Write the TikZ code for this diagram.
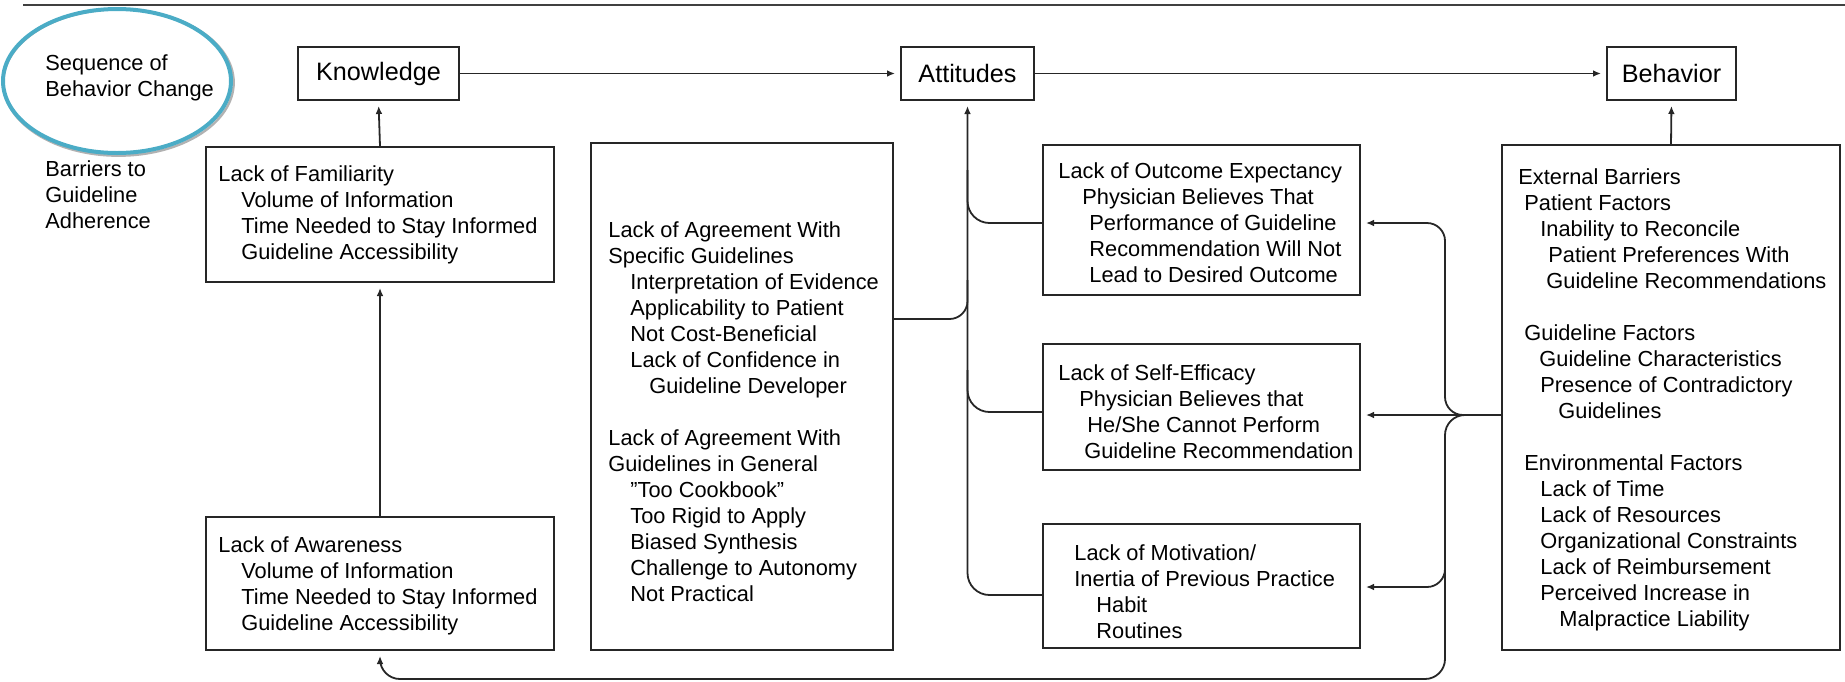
\documentclass[tikz,border=0pt]{standalone}
\usepackage{fontspec}
\setmainfont{Liberation Sans}
\usetikzlibrary{arrows.meta,calc,shapes.geometric}
\definecolor{tealring}{RGB}{75,172,198}
\begin{document}
\begin{tikzpicture}[x=0.5pt,y=-0.5pt,
  box/.style={draw=black!85, line width=1pt, inner sep=0pt},
  txt/.style={anchor=north west, inner sep=0pt, align=left, font=\fontsize{10.9pt}{13pt}\selectfont},
  hdr/.style={font=\fontsize{12.6pt}{15pt}\selectfont},
  conn/.style={draw=black!85, line width=0.9pt, rounded corners=9pt},
  arr/.style={conn, -{Latex[length=4pt,width=3.4pt]}, shorten >=2.5pt}]
\useasboundingbox (0,0) rectangle (1845,681);

% top rule
\draw[line width=1pt, black!75] (23,5) -- (1845,5);

% ellipse
\draw[gray!60, line width=1.2pt] (118.5,82.5) ellipse [x radius=57.6pt, y radius=36.6pt];
\node[draw=tealring, line width=2pt, ellipse, inner sep=0pt, minimum width=114pt, minimum height=72pt] (seq) at (117,81) {};
\node[txt] (seqt) at (45,54) {Sequence of\\Behavior Change};
\node[txt] (bar) at (45,160) {Barriers to\\Guideline\\Adherence};

% header boxes
\node[box, hdr, minimum width=80.5pt, minimum height=26.5pt] (know) at (378.5,73.5) {Knowledge};
\node[box, hdr, minimum width=66.5pt, minimum height=26.5pt] (att) at (967.5,73.5) {Attitudes};
\node[box, hdr, minimum width=64.5pt, minimum height=26.5pt] (beh) at (1671.5,73.5) {Behavior};

% barrier boxes
\node[box, minimum width=174pt, minimum height=67.5pt] (fam) at (380,214.5) {};
\node[box, minimum width=174pt, minimum height=66.5pt] (awa) at (380,583.5) {};
\node[box, minimum width=151pt, minimum height=253.5pt] (agr) at (742,396.5) {};
\node[box, minimum width=158.5pt, minimum height=75pt] (out) at (1201.5,220) {};
\node[box, minimum width=158.5pt, minimum height=63pt] (self) at (1201.5,407) {};
\node[box, minimum width=158.5pt, minimum height=62pt] (mot) at (1201.5,586) {};
\node[box, minimum width=169pt, minimum height=252.5pt] (ext) at (1671,397.5) {};

% texts
\node[txt] (famt) at (218,165) {Lack of Familiarity\\
\hspace*{11.5pt}Volume of Information\\
\hspace*{11.5pt}Time Needed to Stay Informed\\
\hspace*{11.5pt}Guideline Accessibility};
\node[txt] (awat) at (218,536) {Lack of Awareness\\
\hspace*{11.5pt}Volume of Information\\
\hspace*{11.5pt}Time Needed to Stay Informed\\
\hspace*{11.5pt}Guideline Accessibility};
\node[txt] (agrt) at (608,221) {Lack of Agreement With\\
Specific Guidelines\\
\hspace*{11pt}Interpretation of Evidence\\
\hspace*{11pt}Applicability to Patient\\
\hspace*{11pt}Not Cost-Beneficial\\
\hspace*{11pt}Lack of Confidence in\\
\hspace*{20.5pt}Guideline Developer\\[13pt]
Lack of Agreement With\\
Guidelines in General\\
\hspace*{11pt}\symbol{34}Too Cookbook\symbol{34}\\
\hspace*{11pt}Too Rigid to Apply\\
\hspace*{11pt}Biased Synthesis\\
\hspace*{11pt}Challenge to Autonomy\\
\hspace*{11pt}Not Practical};
\node[txt] (outt) at (1058,162) {Lack of Outcome Expectancy\\
\hspace*{12pt}Physician Believes That\\
\hspace*{15.5pt}Performance of Guideline\\
\hspace*{15.5pt}Recommendation Will Not\\
\hspace*{15.5pt}Lead to Desired Outcome};
\node[txt] (selft) at (1058,364) {Lack of Self-Efficacy\\
\hspace*{10.5pt}Physician Believes that\\
\hspace*{14.5pt}He/She Cannot Perform\\
\hspace*{13pt}Guideline Recommendation};
\node[txt] (mott) at (1074,544) {Lack of Motivation/\\
Inertia of Previous Practice\\
\hspace*{11pt}Habit\\
\hspace*{11pt}Routines};
\node[txt] (extt) at (1518,168) {External Barriers\\
\hspace*{3pt}Patient Factors\\
\hspace*{11pt}Inability to Reconcile\\
\hspace*{15pt}Patient Preferences With\\
\hspace*{14pt}Guideline Recommendations\\[13pt]
\hspace*{3pt}Guideline Factors\\
\hspace*{10.5pt}Guideline Characteristics\\
\hspace*{11pt}Presence of Contradictory\\
\hspace*{20pt}Guidelines\\[13pt]
\hspace*{3pt}Environmental Factors\\
\hspace*{11pt}Lack of Time\\
\hspace*{11pt}Lack of Resources\\
\hspace*{11pt}Organizational Constraints\\
\hspace*{11pt}Lack of Reimbursement\\
\hspace*{11pt}Perceived Increase in\\
\hspace*{20.5pt}Malpractice Liability};

% sequence arrows
\draw[arr] (know.east) -- (att.west);
\draw[arr] (att.east) -- (beh.west);
\draw[arr] (fam.north) -- (know.south);
\draw[arr] (awa.north) -- (fam.south);
\draw[arr] (ext.north) -- (beh.south);

% attitude trunk
\coordinate (tA) at (967.5,280);
\coordinate (tB) at (967.5,170);
\coordinate (tC) at (967.5,370);
\draw[arr, rounded corners=11pt] ([yshift=-4.5pt]mot.west) -| (att.south);
\draw[conn] ([yshift=38.75pt]agr.east) -| (tA);
\draw[conn, rounded corners=11pt] ([yshift=-1.5pt]out.west) -| (tB);
\draw[conn, rounded corners=11pt] ([yshift=-2.5pt]self.west) -| (tC);

% external barrier distribution
\coordinate (J) at (1464,415);
\coordinate (rv) at (1445,415);
\coordinate (rb) at (1445,679);
\coordinate (rm) at (1445,530);
\draw[arr] ([yshift=-8.75pt]ext.west) -- ([yshift=-4pt]self.east);
\draw[arr] (J) -- (rv) |- ([yshift=-1.5pt]out.east);
\draw[arr, rounded corners=10pt] (J) -- (rv) -- (rb) -| (awa.south);
\draw[arr] (rm) |- ([yshift=-0.5pt]mot.east);
\end{tikzpicture}
\end{document}
